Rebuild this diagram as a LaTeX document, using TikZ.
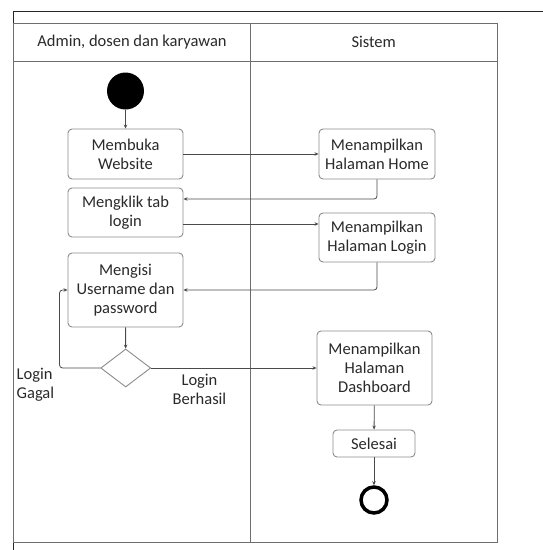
\documentclass[tikz,border=0pt]{standalone}
\usepackage{fontspec}
\setmainfont{Carlito}
\usetikzlibrary{shapes.geometric,arrows.meta}
\definecolor{lanegray}{HTML}{6E6E6E}
\definecolor{boxgray}{HTML}{8C8C8C}
\definecolor{linegray}{HTML}{4A4A4A}
\definecolor{txt}{HTML}{2A2A2A}
\tikzset{
  act/.style={draw=boxgray, line width=0.9pt, rounded corners=4pt, fill=white,
    text=txt, align=center, inner sep=0pt, font=\fontsize{16.5}{19}\selectfont},
  flow/.style={draw=linegray, line width=0.8pt, rounded corners=3pt,
    -{Stealth[length=4pt,width=3.5pt]}},
  lbl/.style={text=txt, inner sep=0pt, font=\fontsize{16.5}{19}\selectfont},
  lane/.style={draw=lanegray, line width=0.9pt},
}
\begin{document}
\begin{tikzpicture}[x=1pt,y=-1pt]
\useasboundingbox (0,0) rectangle (543,550);
\fill[white] (0,0) rectangle (543,550);
% outer frame
\draw[black!85, line width=1pt] (13.5,550) -- (13.5,11.5) -- (543,11.5);
% swimlanes
\draw[lane] (13.5,23) rectangle (497,542);
\draw[lane] (13.5,61) -- (497,61);
\draw[lane] (250.5,23) -- (250.5,542);
\node[lbl] (h1) at (132,42) {Admin, dosen dan karyawan};
\node[lbl] (h2) at (373.7,42) {Sistem};

% activities
\node[circle, fill=black, minimum size=37pt, inner sep=0pt] (start) at (125.5,91) {};
\node[act, minimum width=115pt, minimum height=50pt] (buka) at (125.5,154) {Membuka\\Website};
\node[act, minimum width=115pt, minimum height=49pt] (klik) at (125.5,212.5) {Mengklik tab\\login};
\node[act, minimum width=115pt, minimum height=74pt] (isi) at (125.5,290) {Mengisi\\Username dan\\password};
\node[diamond, draw=boxgray, line width=0.9pt, fill=white, minimum width=50pt, minimum height=38pt, inner sep=0pt] (cek) at (125.7,368) {};
\node[act, minimum width=116pt, minimum height=50pt] (home) at (377,154) {Menampilkan\\Halaman Home};
\node[act, minimum width=116pt, minimum height=49pt] (login) at (377,237.5) {Menampilkan\\Halaman Login};
\node[act, minimum width=115pt, minimum height=74pt] (dash) at (374.5,368) {Menampilkan\\Halaman\\Dashboard};
\node[act, minimum width=82pt, minimum height=27pt] (done) at (374,443.5) {Selesai};
\node[circle, draw=black, line width=3.5pt, minimum size=26pt, inner sep=0pt] (end) at (374,500) {};

\node[lbl, align=left, anchor=west] (gagal) at (16.5,385) {Login\\Gagal};
\node[lbl, align=center] (berhasil) at (199.5,389) {Login\\Berhasil};

% flows
\draw[flow] (start) -- (buka);
\draw[flow] (buka) -- (home);
\draw[flow] (home.south) |- ([yshift=13.5pt]klik.east);
\draw[flow] ([yshift=-11.5pt]klik.east) -- ([yshift=-11.5pt]klik.east -| login.west);
\draw[flow] (login.south) |- (isi.east);
\draw[flow] (isi) -- (cek);
\draw[flow] (cek.west) -- ++(-40.7,0) |- (isi.west);
\draw[flow] (cek.east) -- (dash.west);
\draw[flow] (dash) -- (done);
\draw[flow] (done) -- (end);
\end{tikzpicture}
\end{document}
